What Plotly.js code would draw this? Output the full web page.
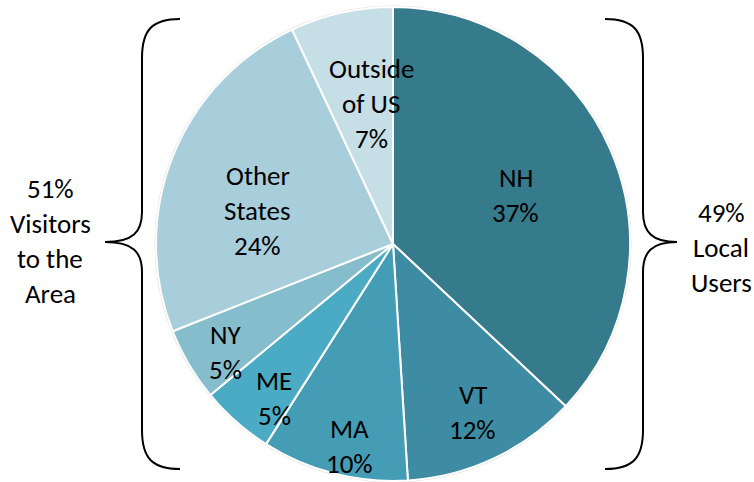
<!DOCTYPE html>
<html>
<head>
<meta charset="utf-8">
<script src="https://cdn.plot.ly/plotly-3.0.1.min.js"></script>
<style>html,body{margin:0;padding:0;background:#fff;}#chart{width:754px;height:482px;}</style>
</head>
<body>
<div id="chart"></div>
<script>
// ---- data ----
const categories = ["NH", "VT", "MA", "ME", "NY", "Other<br>States", "Outside<br>of US"];
const shares = [37, 12, 10, 5, 5, 24, 7];
const groupLeftLines = ["51%", "Visitors", "to the", "Area"];
const groupRightLines = ["49%", "Local", "Users"];

// ---- style ----
const colors = ["#367b8c", "#3d8ca4", "#459db5", "#4babc5", "#86bdcd", "#a9cedb", "#c6dee6"];
const labelRadius = [0.55, 0.78, 0.87, 0.82, 0.84, 0.59, 0.61];
const labelNudge = [[3, 3], [1, 1], [8, 2], [10, 8], [4, 7], [-5, 18], [10, 1]];
const W = 754, H = 482;
const FONT = "Carlito, Calibri, Lato, 'Noto Sans', sans-serif";
const FS = 27, LS = 35;
const dx = [156 / W, 630 / W];
const dy = [1 / H, 475 / H];

const cx = (dx[0] + dx[1]) / 2 * W;
const cy = H - (dy[0] + dy[1]) / 2 * H;
const R = Math.min((dx[1] - dx[0]) * W, (dy[1] - dy[0]) * H) / 2;

const total = shares.reduce((a, b) => a + b, 0);
const annotations = [];
function addBlock(lines, x, y) {
  lines.forEach((t, i) => {
    annotations.push({
      xref: "x", yref: "y", x: x, y: y + (i - (lines.length - 1) / 2) * LS,
      text: t, showarrow: false, xanchor: "center", yanchor: "middle",
      font: {family: FONT, size: FS, color: "#000"}
    });
  });
}
let cum = 0;
shares.forEach((v, i) => {
  const mid = (cum + v / 2) / total;
  cum += v;
  const th = 2 * Math.PI * mid;
  const r = labelRadius[i] * R;
  const x = cx + r * Math.sin(th) + labelNudge[i][0];
  const y = cy - r * Math.cos(th) + labelNudge[i][1];
  const lines = categories[i].split("<br>").concat([Math.round(v / total * 100) + "%"]);
  addBlock(lines, x, y);
});
addBlock(groupLeftLines, 50, 241);
addBlock(groupRightLines, 721, 247);

const rightBrace = "M605,19 C633,19 643,30 643,58 L643,212 C643,232 652,242 677,242 C652,242 643,252 643,272 L643,430 C643,458 633,469 605,469";
const leftBrace = "M180,19 C152,19 142,30 142,58 L142,212 C142,232 133,242 105,242 C133,242 142,252 142,272 L142,430 C142,458 152,469 180,469";

const data = [{
  type: "pie",
  labels: categories,
  values: shares,
  sort: false,
  direction: "clockwise",
  rotation: 0,
  marker: {colors: colors, line: {color: "#ffffff", width: 2}},
  textinfo: "none",
  hoverinfo: "skip",
  showlegend: false,
  domain: {x: dx, y: dy}
}];

const layout = {
  width: W, height: H,
  margin: {l: 0, r: 0, t: 0, b: 0},
  paper_bgcolor: "#ffffff", plot_bgcolor: "rgba(0,0,0,0)",
  xaxis: {range: [0, W], visible: false, fixedrange: true},
  yaxis: {range: [H, 0], visible: false, fixedrange: true},
  showlegend: false,
  annotations: annotations,
  shapes: [
    {type: "circle", xref: "x", yref: "y", x0: cx - R - 1, x1: cx + R + 1, y0: cy - R - 1, y1: cy + R + 1,
     line: {color: "#d9d9d9", width: 1}, layer: "below"},
    {type: "path", xref: "x", yref: "y", path: rightBrace, line: {color: "#000", width: 2}},
    {type: "path", xref: "x", yref: "y", path: leftBrace, line: {color: "#000", width: 2}}
  ]
};

Plotly.newPlot("chart", data, layout, {displayModeBar: false, staticPlot: true});
</script>
</body>
</html>
